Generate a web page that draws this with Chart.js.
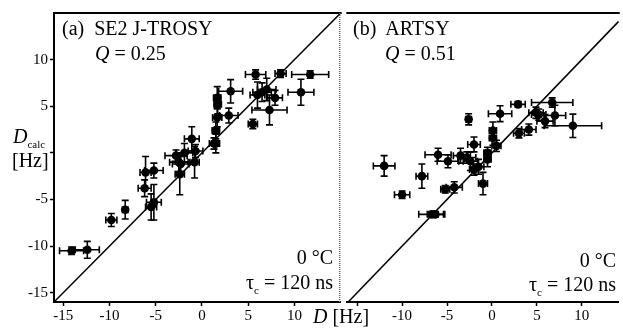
<!DOCTYPE html>
<html><head><meta charset="utf-8">
<script src="https://cdn.jsdelivr.net/npm/chart.js@4/dist/chart.umd.min.js"></script>
<style>
body{margin:0;background:#fff;width:623px;height:328px;overflow:hidden;position:relative;font-family:"Liberation Serif","Times New Roman",serif;color:#000}
canvas{position:absolute;top:0}
.t{position:absolute;font-size:20px;line-height:20px;white-space:pre}
.r{text-align:right}
.sub{font-size:11px;position:relative;top:5px}
</style></head><body>
<canvas id="ca" width="345" height="328" style="left:0"></canvas>
<canvas id="cb" width="280" height="328" style="left:343px"></canvas>
<div class="t" style="left:62px;top:18px">(a)  SE2 J-TROSY</div>
<div class="t" style="left:95px;top:43px"><i>Q</i> = 0.25</div>
<div class="t" style="left:353px;top:18px">(b)  ARTSY</div>
<div class="t" style="left:385px;top:43px"><i>Q</i> = 0.51</div>
<div class="t r" style="right:290px;top:247px">0 °C</div>
<div class="t r" style="right:290px;top:272px">τ<span class="sub">c</span> = 120 ns</div>
<div class="t r" style="right:7px;top:250px">0 °C</div>
<div class="t r" style="right:7px;top:274px">τ<span class="sub">c</span> = 120 ns</div>
<div class="t" style="left:13px;top:126px"><i>D</i><span class="sub">calc</span></div>
<div class="t" style="left:12px;top:150px">[Hz]</div>
<div class="t" style="left:313px;top:306px"><i>D</i> [Hz]</div>
<script>
const xTicks=[-15,-10,-5,0,5,10];
const yTicks=[-15,-10,-5,0,5,10];
const hiddenTickB=[-15];
const hiddenTickY=[0];
const diagA=[-16,15];
const diagB=[-16.1,14.1];

// (a) SE2 J-TROSY
const aX=[-14.1,-12.4,-9.8,-8.3,-6.2,-6.1,-5.2,-5.2,-5.5,-2.8,-2.3,-2.4,-1.1,-0.7,-0.8,1.3,-1.9,1.5,1.5,1.65,2.9,1.65,3.1,5.5,7.3,6.5,7.9,10.7,5.8,8.5,11.7,7.0,6.0,-2.5,1.7];
const aY=[-10.5,-10.4,-7.2,-6.1,-3.8,-2.1,-1.9,-5.3,-5.8,-0.3,-1.2,-2.3,1.5,0.2,-1.0,1.0,0.0,2.4,1.0,3.8,4.0,5.9,6.6,3.1,4.6,6.5,5.9,6.5,8.4,8.5,8.4,6.8,6.2,-1.0,5.2];
const aXerr=[1.3,1.3,0.6,0.3,0.7,0.6,1.0,0.8,0.6,1.2,0.9,0.5,0.8,0.8,0.5,0.5,0.9,0.4,0.4,0.5,1.0,0.4,1.3,0.5,1.9,1.0,0.8,1.4,1.1,0.6,2.0,1.0,0.8,1.0,0.4];
const aYerr=[0.4,0.9,0.7,1.0,0.9,1.7,0.8,1.9,1.4,0.6,0.8,2.2,1.3,0.7,1.7,0.6,1.0,0.9,1.0,1.0,0.8,1.2,1.25,0.5,1.6,1.0,0.8,1.4,0.5,0.4,0.4,1.2,1.4,1.0,1.0];

// (b) ARTSY
const bX=[-12.0,-10.0,-7.8,-6.7,-6.3,-5.2,-4.2,-1.0,-6.0,-4.9,-2.6,-3.5,-2.0,-2.4,-2.8,2.9,0.9,6.7,9.0,7.0,5.2,5.9,4.9,4.1,3.0,0.1,0.1,0.5,-0.5,-0.5,-1.5,-2.0];
const bY=[-1.4,-4.5,-2.5,-6.6,-6.6,-3.9,-3.7,-3.3,-0.2,-0.9,3.6,-0.3,0.9,-0.9,-0.5,5.2,4.2,5.4,2.9,4.0,4.1,3.4,4.3,2.5,2.1,2.4,1.6,0.75,0.0,-0.7,-1.5,-1.8];
const bXerr=[1.2,0.85,0.65,1.45,0.9,0.5,0.9,0.5,1.45,1.2,0.3,0.8,0.7,0.8,1.0,0.8,1.3,2.3,3.2,1.2,0.8,0.9,0.8,0.8,0.6,0.4,0.4,0.5,0.4,0.4,0.6,0.5];
const bYerr=[1.1,0.4,1.3,0.3,0.3,0.4,0.6,1.2,0.7,0.7,0.6,0.8,0.8,1.0,0.6,0.3,0.85,0.5,1.25,1.1,0.6,0.7,0.6,0.6,0.5,0.9,0.8,0.6,0.6,0.8,0.8,0.6];

const FONT='"Liberation Serif","Times New Roman",serif';

const errPlugin={id:'errbars',beforeDatasetsDraw(chart){
  const ctx=chart.ctx, xs=chart.scales.x, ys=chart.scales.y;
  chart.data.datasets.forEach(ds=>{
    if(!ds.xErr) return;
    ctx.save(); ctx.strokeStyle='#000'; ctx.lineWidth=1.6; const cap=3.5;
    ds.data.forEach((p,i)=>{
      const px=xs.getPixelForValue(p.x), py=ys.getPixelForValue(p.y);
      const x1=xs.getPixelForValue(p.x-ds.xErr[i]), x2=xs.getPixelForValue(p.x+ds.xErr[i]);
      const y1=ys.getPixelForValue(p.y-ds.yErr[i]), y2=ys.getPixelForValue(p.y+ds.yErr[i]);
      ctx.beginPath();
      ctx.moveTo(x1,py);ctx.lineTo(x2,py);
      ctx.moveTo(x1,py-cap);ctx.lineTo(x1,py+cap);
      ctx.moveTo(x2,py-cap);ctx.lineTo(x2,py+cap);
      ctx.moveTo(px,y1);ctx.lineTo(px,y2);
      ctx.moveTo(px-cap,y1);ctx.lineTo(px+cap,y1);
      ctx.moveTo(px-cap,y2);ctx.lineTo(px+cap,y2);
      ctx.stroke();
    });
    ctx.restore();
  });
}};

const framePlugin={id:'frame',afterDraw(chart,args,opts){
  const ctx=chart.ctx,a=chart.chartArea;
  ctx.save(); ctx.strokeStyle='#000'; ctx.lineWidth=2;
  ctx.beginPath(); ctx.moveTo(a.left-1,a.top); ctx.lineTo(a.right+1,a.top); ctx.stroke();
  if(opts.right){
    ctx.strokeStyle='#666'; ctx.lineWidth=1.5; ctx.setLineDash([1,1]);
    ctx.beginPath(); ctx.moveTo(a.right-1,a.top); ctx.lineTo(a.right-1,a.bottom); ctx.stroke();
  }
  ctx.restore();
}};

function makeChart(id,xs,ys,xe,ye,diag,xmin,xmax,showY,padRight,hidden){
  return new Chart(document.getElementById(id),{
    type:'scatter',
    data:{datasets:[
      {type:'line',data:diag.map(v=>({x:v,y:v})),borderColor:'#000',borderWidth:1.5,pointRadius:0,fill:false,tension:0},
      {data:xs.map((x,i)=>({x:x,y:ys[i]})),xErr:xe,yErr:ye,backgroundColor:'#000',borderColor:'#000',pointRadius:4.3,borderWidth:0,pointStyle:'circle'}
    ]},
    options:{responsive:false,animation:false,events:[],
      plugins:{legend:{display:false},tooltip:{enabled:false},frame:{right:showY}},
      layout:{padding:{top:13,right:padRight,left:0,bottom:0}},
      scales:{
        x:{type:'linear',min:xmin,max:xmax,
          afterBuildTicks:s=>{s.ticks=xTicks.map(v=>({value:v}));},
          afterFit:s=>{s.height=26;},
          ticks:{font:{family:FONT,size:15},color:'#000',padding:1,maxRotation:0,autoSkip:false,
            callback:v=>hidden.includes(v)?'':String(v)},
          grid:{drawOnChartArea:false,drawTicks:true,tickLength:4,color:'#000',tickWidth:1.5},
          border:{display:true,color:'#000',width:2}},
        y:{type:'linear',min:-16,max:15,display:showY,
          afterBuildTicks:s=>{s.ticks=yTicks.map(v=>({value:v}));},
          afterFit:s=>{s.width=showY?54:0;},
          ticks:{font:{family:FONT,size:15},color:'#000',padding:2,autoSkip:false,
            callback:v=>hiddenTickY.includes(v)?'':String(v)},
          grid:{drawOnChartArea:false,drawTicks:true,tickLength:4,color:'#000',tickWidth:1.5},
          border:{display:true,color:'#000',width:2}}
      }
    },
    plugins:[errPlugin,framePlugin]
  });
}
makeChart('ca',aX,aY,aXerr,aYerr,diagA,-16,15,true,2,[]);
makeChart('cb',bX,bY,bXerr,bYerr,diagB,-16.1,14.1,false,0,hiddenTickB);
</script>
</body></html>
